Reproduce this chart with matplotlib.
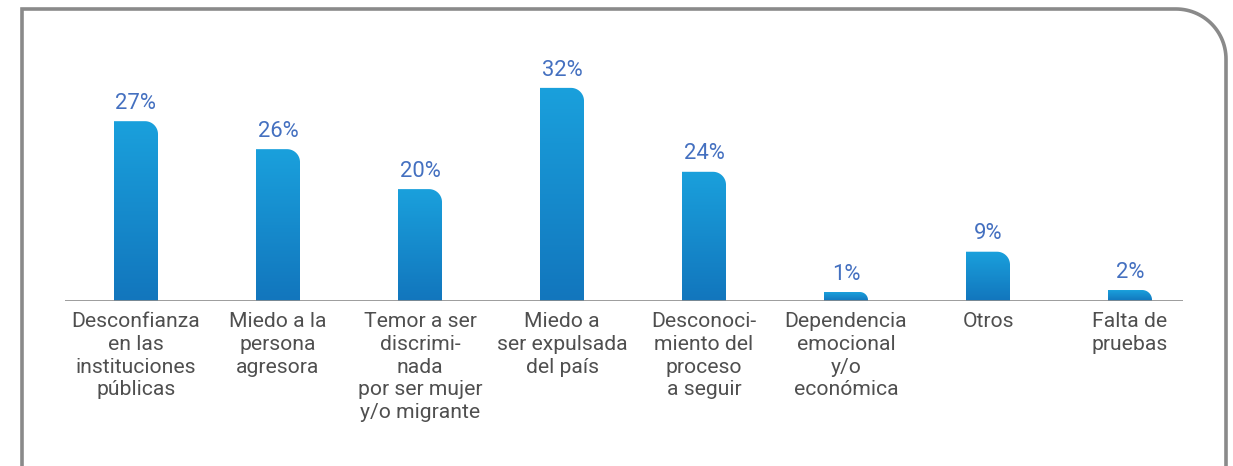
import numpy as np
import matplotlib
matplotlib.use("Agg")
import matplotlib.pyplot as plt
from matplotlib.path import Path
from matplotlib.patches import PathPatch
from matplotlib.colors import LinearSegmentedColormap

# data
categories = [
    "Desconfianza\nen las\ninstituciones\npúblicas",
    "Miedo a la\npersona\nagresora",
    "Temor a ser\ndiscrimi-\nnada\npor ser mujer\ny/o migrante",
    "Miedo a\nser expulsada\ndel país",
    "Desconoci-\nmiento del\nproceso\na seguir",
    "Dependencia\nemocional\ny/o\neconómica",
    "Otros",
    "Falta de\npruebas",
]
value_labels = ["27%", "26%", "20%", "32%", "24%", "1%", "9%", "2%"]
# bar heights as drawn in the source (not strictly proportional to labels)
bar_heights = [27, 22.8, 16.8, 32, 19.4, 1.35, 7.4, 1.65]

W, H = 1233, 466
fig = plt.figure(figsize=(W / 100, H / 100), dpi=100)
fig.patch.set_facecolor("white")

# axes placed so bar centers sit at 136 + 142*i px, baseline at y=301 px
ax_left, ax_right = 65, 1183
base_y, top_y = 301, 40
ax = fig.add_axes([ax_left / W, (H - base_y) / H,
                   (ax_right - ax_left) / W, (base_y - top_y) / H])
px_per_unit_x = 142.0
px_per_pct = 6.66
ax.set_xlim((ax_left - 136) / px_per_unit_x, (ax_right - 136) / px_per_unit_x)
ax.set_ylim(0, (base_y - top_y) / px_per_pct)
ax.axis("off")
ax.axhline(0, color="#8c8c8c", lw=1.2, zorder=3)

grad = LinearSegmentedColormap.from_list("g", ["#1276bd", "#1aa0dc"])
bar_w = 44 / px_per_unit_x
rx, ry = 13 / px_per_unit_x, 13 / px_per_pct

for i, v in enumerate(bar_heights):
    x0, x1 = i - bar_w / 2, i + bar_w / 2
    r_y = min(ry, v * 0.9)
    r_x = rx * (r_y / ry)
    t = np.linspace(0, np.pi / 2, 20)
    arc = [(x1 - r_x + r_x * np.sin(a), v - r_y + r_y * np.cos(a)) for a in t]
    verts = [(x0, 0), (x0, v)] + arc + [(x1, 0), (x0, 0)]
    codes = [Path.MOVETO] + [Path.LINETO] * (len(verts) - 2) + [Path.CLOSEPOLY]
    patch = PathPatch(Path(verts, codes), facecolor="none", edgecolor="none")
    ax.add_patch(patch)
    img = ax.imshow(np.linspace(0, 1, 100).reshape(-1, 1), cmap=grad,
                    extent=[x0, x1, 0, v], origin="lower", aspect="auto",
                    zorder=2)
    img.set_clip_path(patch)
    ax.text(i, v + 1.1, value_labels[i], ha="center", va="bottom",
            fontsize=15.8, color="#4470c0", family="Roboto")
    ax.annotate(categories[i], (i, 0), xytext=(0, -8),
                textcoords="offset points", ha="center", va="top",
                fontsize=15.2, color="#4f4f4f", family="Roboto",
                linespacing=1.25, annotation_clip=False)

ax.set_aspect("auto")

# rounded frame (only top-right corner rounded)
fx0, fy0, fx1, r = 22, 9, 1226, 50
t = np.linspace(0, np.pi / 2, 30)
frame = [(fx0, H + 10), (fx0, fy0)]
frame += [(fx1 - r + r * np.sin(a), fy0 + r - r * np.cos(a)) for a in t]
frame += [(fx1, H + 10)]
fxs = [p[0] / W for p in frame]
fys = [1 - p[1] / H for p in frame]
fig.add_artist(plt.Line2D(fxs, fys, color="#8a8a8a", lw=2.6,
                          transform=fig.transFigure, solid_joinstyle="miter"))

fig.savefig("out.png", dpi=100, facecolor="white")
